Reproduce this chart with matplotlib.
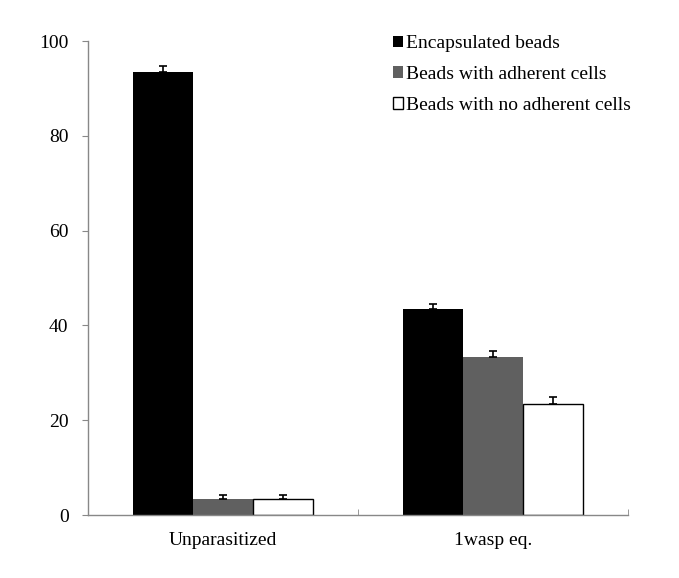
import matplotlib
matplotlib.use('Agg')
import matplotlib.pyplot as plt
import numpy as np

# Datos
grupos = ['Unparasitized', '1wasp eq.']
series = ['Encapsulated beads', 'Beads with adherent cells', 'Beads with no adherent cells']
encapsuladas = [93.4, 43.4]
adherentes = [3.4, 33.3]
sin_adherentes = [3.4, 23.4]
err_encapsuladas = [1.3, 1.2]
err_adherentes = [0.8, 1.2]
err_sin_adherentes = [0.8, 1.5]

colores = ['#000000', '#606060', '#ffffff']
plt.rcParams['font.family'] = ['Liberation Serif', 'DejaVu Serif']

fig = plt.figure(figsize=(6.79, 5.78), dpi=100)
ax = fig.add_axes([88 / 679, 63 / 578, 540 / 679, 474 / 578])

x = np.arange(len(grupos))
ancho = 0.222
valores = [encapsuladas, adherentes, sin_adherentes]
errores = [err_encapsuladas, err_adherentes, err_sin_adherentes]
for i in range(3):
    pos = x + (i - 1) * ancho
    ax.bar(pos, valores[i], ancho, color=colores[i], edgecolor='black',
           linewidth=1.0 if i == 2 else 0, label=series[i], zorder=2)
    ax.errorbar(pos, valores[i], yerr=[np.zeros(len(grupos)), errores[i]],
                fmt='none', ecolor='black', elinewidth=1.2, capsize=3, capthick=1.2, zorder=3)

ax.set_xlim(-0.5, 1.5)
ax.set_ylim(0, 100)
ax.set_yticks([0, 20, 40, 60, 80, 100])
ax.set_xticks(x)
ax.set_xticklabels(grupos, fontsize=14)
ax.set_xticks([0.5, 1.5], minor=True)
ax.tick_params(axis='x', which='major', length=0, pad=12)
ax.tick_params(axis='x', which='minor', direction='in', length=4, color='#888888')
ax.tick_params(axis='y', direction='out', length=4, color='#888888', labelsize=14, pad=10)

for s in ['top', 'right']:
    ax.spines[s].set_visible(False)
for s in ['left', 'bottom']:
    ax.spines[s].set_color('#888888')
    ax.spines[s].set_linewidth(1.0)

ax.legend(loc='upper left', bbox_to_anchor=(375 / 679, 1 - 18 / 578),
          bbox_transform=fig.transFigure, frameon=False, fontsize=14,
          handlelength=0.55, handleheight=0.55, handletextpad=0.15, labelspacing=0.7)

fig.savefig('out.png', dpi=100)
